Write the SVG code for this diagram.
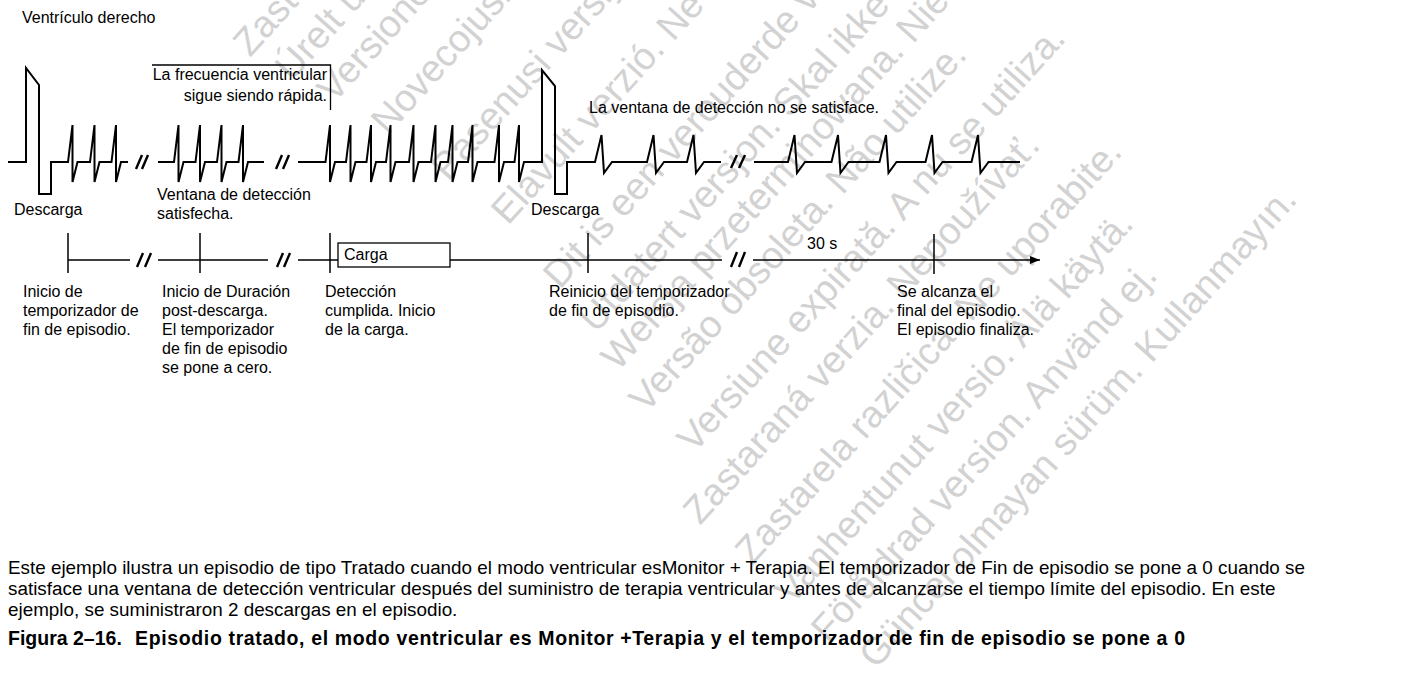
<svg xmlns="http://www.w3.org/2000/svg" width="1413" height="679" viewBox="0 0 1413 679">
<style>
.t{font-family:"Liberation Sans",Arial,sans-serif;font-size:16px;fill:#000}
.c{font-family:"Liberation Sans",Arial,sans-serif;font-size:18.85px;fill:#000}
.b{font-family:"Liberation Sans",Arial,sans-serif;font-size:19.5px;font-weight:bold;fill:#000}
.wm{font-family:"Liberation Sans",Arial,sans-serif;font-size:38px;fill:#d2d2d2}
.w{fill:none;stroke:#000;stroke-width:2;stroke-linejoin:miter}
.br{fill:none;stroke:#000;stroke-width:2.4}
.ax{fill:none;stroke:#000;stroke-width:1.3}
.tk{fill:none;stroke:#000;stroke-width:1.5}
</style>
<defs>
<marker id="arr" viewBox="0 0 10 8" refX="10" refY="4" markerWidth="10" markerHeight="8" markerUnits="userSpaceOnUse" orient="auto">
<path d="M0,0 L10,4 L0,8 Z" fill="#000"/>
</marker>
</defs>
<rect width="1413" height="679" fill="#fff"/>
<g id="watermark">
<text class="wm" transform="translate(250,58) rotate(-48)">Zastarjela verzija. Nemojte upotrebljavati.</text>
<text class="wm" transform="translate(292,82) rotate(-48)">Úrelt útgáfa. Notið ekki.</text>
<text class="wm" transform="translate(334,104) rotate(-48)">Versione obsoleta. Non utilizzare.</text>
<text class="wm" transform="translate(388,136) rotate(-48)">Novecojusi versija. Neizmantot.</text>
<text class="wm" transform="translate(448,182) rotate(-48)">Pasenusi versija. Nenaudokite.</text>
<text class="wm" transform="translate(508,226) rotate(-48)">Elavult verzió. Ne használja!</text>
<text class="wm" transform="translate(560,290) rotate(-48)">Dit is een verouderde versie. Niet gebruiken.</text>
<text class="wm" transform="translate(596,334) rotate(-48)">Utdatert versjon. Skal ikke brukes.</text>
<text class="wm" transform="translate(618,372) rotate(-48)">Wersja przeterminowana. Nie używać.</text>
<text class="wm" transform="translate(646,414) rotate(-48)">Versão obsoleta. Não utilize.</text>
<text class="wm" transform="translate(694,454) rotate(-48)">Versiune expirată. A nu se utiliza.</text>
<text class="wm" transform="translate(700,526) rotate(-48)">Zastaraná verzia. Nepoužívať.</text>
<text class="wm" transform="translate(752,566) rotate(-48)">Zastarela različica. Ne uporabite.</text>
<text class="wm" transform="translate(792,606) rotate(-48)">Vanhentunut versio. Älä käytä.</text>
<text class="wm" transform="translate(828,644) rotate(-48)">Föråldrad version. Använd ej.</text>
<text class="wm" transform="translate(876,670) rotate(-48)">Güncel olmayan sürüm. Kullanmayın.</text>
</g>
<g id="waveform">
<path class="w" d="M8,162 H26 V68 L39,85 V194 H51 V162 H68 L72.5,125 L72.5,182 L77.5,162 H90 L94.5,125 L94.5,182 L99.5,162 H111.5 L116,125 L116,182 L121,162 H128"/>
<path class="w" d="M158,162 H174 L178.5,125 L178.5,182 L183.5,162 H195.5 L200,125 L200,182 L205,162 H217 L221.5,125 L221.5,182 L226.5,162 H238.5 L243,125 L243,182 L248,162 H264"/>
<path class="w" d="M298,162 H325.5 L330,125 L330,182 L335,162 H346 L350.5,125 L350.5,182 L355.5,162 H366.5 L371,125 L371,182 L376,162 H386 L390.5,125 L390.5,182 L395.5,162 H409 L413.5,125 L413.5,182 L418.5,162 H431 L435.5,125 L435.5,182 L440.5,162 H448 L452.5,125 L452.5,182 L457.5,162 H468 L472.5,125 L472.5,182 L477.5,162 H494.5 L499,125 L499,182 L504,162 H514.5 L519,125 L519,182 L524,162 H542 V70 L555,86 V194 H567 V162 H595 L601.5,135 L604,173 L612,162 H647 L653.5,135 L656,173 L664,162 H687 L693.5,135 L696,173 L704,162 H721"/>
<path class="w" d="M754,162 H788 L794.5,135 L797,173 L805,162 H831.5 L838,135 L840.5,173 L848.5,162 H879.5 L886,135 L888.5,173 L896.5,162 H925.5 L932,135 L934.5,173 L942.5,162 H971.5 L978,135 L980.5,173 L988.5,162 H1020"/>
<path class="br" d="M136,169 L142,155 M142,169 L148,155 M276,169 L282,155 M283,169 L289,155 M731,168 L737,155 M739,168 L745,155"/>
<path class="ax" d="M152,65 H330.5 V110"/>
</g>
<g id="labels-top">
<text class="t" x="22" y="23">Ventrículo derecho</text>
<text class="t" x="327" y="80" text-anchor="end">La frecuencia ventricular</text>
<text class="t" x="327" y="101" text-anchor="end">sigue siendo rápida.</text>
<text class="t" x="589" y="113">La ventana de detección no se satisface.</text>
<text class="t" x="14" y="215">Descarga</text>
<text class="t" x="157" y="200">Ventana de detección</text>
<text class="t" x="157" y="219">satisfecha.</text>
<text class="t" x="531" y="215">Descarga</text>
</g>
<g id="connectors">
<path class="ax" d="M68,260 H130 M158,260 H268 M298,260 H338 M450,260 H722"/>
<path class="ax" d="M753,260 H1040" marker-end="url(#arr)"/>
<path class="br" d="M137,267 L143,253 M145,267 L151,253 M277,267 L283,253 M284,267 L290,253 M731,267 L737,252 M739,267 L745,252"/>
</g>
<g id="tick-inicio"><line class="tk" x1="68" y1="233" x2="68" y2="273"/>
<text class="t" x="23" y="297">Inicio de</text><text class="t" x="23" y="316">temporizador de</text><text class="t" x="23" y="335">fin de episodio.</text></g>
<g id="tick-postdescarga"><line class="tk" x1="200" y1="233" x2="200" y2="273"/>
<text class="t" x="162" y="297">Inicio de Duración</text><text class="t" x="162" y="316">post-descarga.</text><text class="t" x="162" y="335">El temporizador</text><text class="t" x="162" y="354">de fin de episodio</text><text class="t" x="162" y="373">se pone a cero.</text></g>
<g id="tick-deteccion"><line class="tk" x1="330" y1="233" x2="330" y2="273"/>
<text class="t" x="325" y="297">Detección</text><text class="t" x="325" y="316">cumplida. Inicio</text><text class="t" x="325" y="335">de la carga.</text></g>
<g id="carga"><rect x="338" y="243" width="112" height="24" fill="#fff" stroke="#000" stroke-width="1.3"/>
<text class="t" x="344" y="260">Carga</text></g>
<g id="tick-reinicio"><line class="tk" x1="588" y1="233" x2="588" y2="273"/>
<text class="t" x="549" y="297">Reinicio del temporizador</text><text class="t" x="549" y="316">de fin de episodio.</text></g>
<g id="label-30s"><text class="t" x="807" y="249">30 s</text></g>
<g id="tick-final"><line class="tk" x1="934" y1="234" x2="934" y2="274"/>
<text class="t" x="897" y="297">Se alcanza el</text><text class="t" x="897" y="316">final del episodio.</text><text class="t" x="897" y="335">El episodio finaliza.</text></g>
<g id="caption">
<text class="c" x="8" y="574">Este ejemplo ilustra un episodio de tipo Tratado cuando el modo ventricular esMonitor + Terapia. El temporizador de Fin de episodio se pone a 0 cuando se</text>
<text class="c" x="8" y="595">satisface una ventana de detección ventricular después del suministro de terapia ventricular y antes de alcanzarse el tiempo límite del episodio. En este</text>
<text class="c" x="8" y="616">ejemplo, se suministraron 2 descargas en el episodio.</text>
<text class="b" x="8" y="645">Figura 2–16.</text>
<text class="b" x="135" y="645" textLength="1050" lengthAdjust="spacing">Episodio tratado, el modo ventricular es Monitor +Terapia y el temporizador de fin de episodio se pone a 0</text>
</g>
</svg>
